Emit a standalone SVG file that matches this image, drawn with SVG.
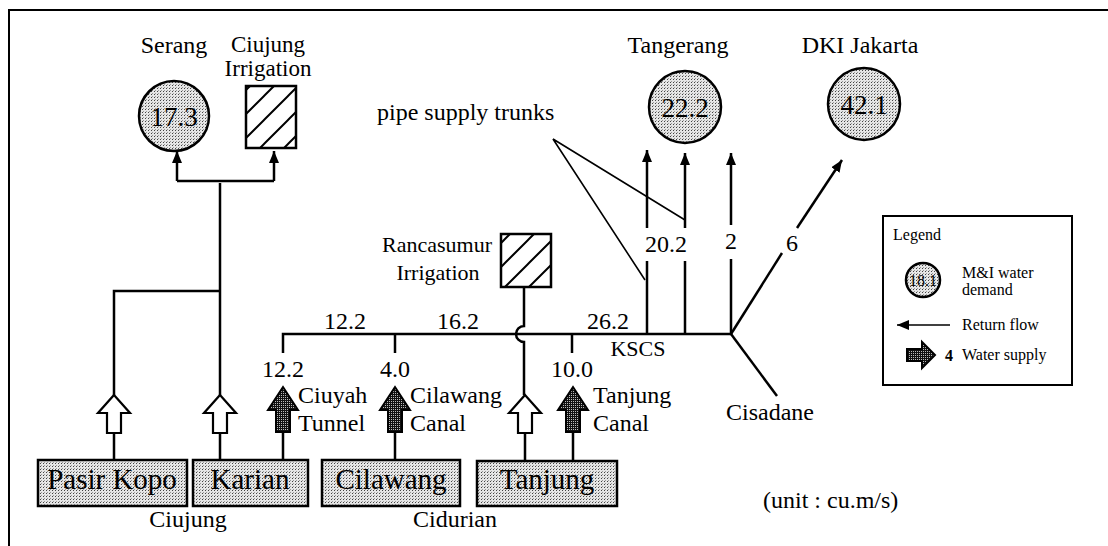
<svg xmlns="http://www.w3.org/2000/svg" width="1108" height="546" viewBox="0 0 1108 546">
<defs>
<pattern id="stip" patternUnits="userSpaceOnUse" width="3" height="3">
<rect width="3" height="3" fill="#e6e6e6"/>
<rect x="1" y="1" width="1" height="1" fill="#444"/>
<rect x="2" y="0" width="1" height="1" fill="#999"/>
</pattern>
<pattern id="dark" patternUnits="userSpaceOnUse" width="2" height="2">
<rect width="2" height="2" fill="#111"/>
<rect x="1" y="1" width="1" height="1" fill="#bbb"/>
</pattern>
<pattern id="hatch" patternUnits="userSpaceOnUse" width="24" height="24">
<rect width="24" height="24" fill="#fff"/>
<path d="M0,24 L24,0 M-6,6 L6,-6 M18,30 L30,18" stroke="#000" stroke-width="2"/>
</pattern>
<marker id="ah" viewBox="0 0 12 10" refX="12" refY="5" markerWidth="12" markerHeight="10" markerUnits="userSpaceOnUse" orient="auto">
<path d="M12,5 L0,0 L0,10 Z" fill="#000"/>
</marker>
</defs>
<style>
text{font-family:"Liberation Serif","Times New Roman",serif;fill:#000;}
.t{font-size:24px;}
.c{text-anchor:middle;}
.big{font-size:29px;}
.lg{font-size:16px;}
.ln{fill:none;stroke:#000;stroke-width:2.5;}
.thin{fill:none;stroke:#000;stroke-width:1.6;}
.box{fill:url(#stip);stroke:#000;stroke-width:2.5;}
.open{fill:#fff;stroke:#000;stroke-width:2.2;stroke-linejoin:miter;}
.drk{fill:url(#dark);stroke:#000;stroke-width:2;}
.hat{fill:url(#hatch);stroke:#000;stroke-width:2.5;}
</style>

<rect x="0" y="0" width="1108" height="546" fill="#fff"/>
<path d="M8,10 H1108 M9,10 V546" fill="none" stroke="#000" stroke-width="2"/>

<g id="connectors">
<!-- Ciujung system -->
<path class="ln" d="M220,183 V395"/>
<path class="ln" d="M177,181 H274"/>
<path class="ln" d="M177,181 V151" marker-end="url(#ah)"/>
<path class="ln" d="M274,181 V151" marker-end="url(#ah)"/>
<path class="ln" d="M114,395 V291 H220"/>
<!-- main line -->
<path class="ln" d="M283,353 V334 H731"/>
<path class="ln" d="M395,334 V353"/>
<path class="ln" d="M572,334 V353"/>
<!-- Rancasumur crossing -->
<path class="ln" d="M524,287 V326 A8,8 0 0 0 524,342 V395"/>
<!-- stems into boxes -->
<path class="ln" d="M114,433 V460 M220,433 V460 M283,432 V460 M395,432 V460 M525,433 V461 M573,432 V461"/>
<!-- to Tangerang -->
<path class="ln" d="M647,334 V261 M647,228 V150" marker-end="url(#ah)"/>
<path class="ln" d="M685,334 V261 M685,228 V153" marker-end="url(#ah)"/>
<path class="ln" d="M731,334 V259 M731,225 V153" marker-end="url(#ah)"/>
<!-- to DKI -->
<path class="ln" d="M731,334 L782,253"/>
<path class="ln" d="M797,228 L842,160" marker-end="url(#ah)"/>
<!-- Cisadane -->
<path class="ln" d="M731,334 L777,396"/>
<!-- pointers -->
<path class="thin" d="M645,280 L553,139 L685,220"/>
</g>

<g id="serang">
<circle cx="174" cy="116" r="35" class="box" stroke-width="3"/>
<text class="t c" x="174" y="53">Serang</text>
<text class="c" x="174" y="126" font-size="27">17.3</text>
</g>
<g id="ciujung-irrigation">
<rect x="246" y="86" width="50" height="62" class="hat"/>
<text class="c" x="268" y="52" font-size="23">Ciujung</text>
<text class="c" x="268" y="76" font-size="23">Irrigation</text>
</g>
<g id="tangerang">
<circle cx="685" cy="107" r="36" class="box" stroke-width="3"/>
<text class="t c" x="678" y="53">Tangerang</text>
<text class="c" x="685" y="117" font-size="27">22.2</text>
</g>
<g id="dki">
<circle cx="864" cy="104" r="36" class="box" stroke-width="3"/>
<text class="t c" x="860" y="53">DKI Jakarta</text>
<text class="c" x="864" y="114" font-size="27">42.1</text>
</g>
<g id="pipe-label">
<text class="t" x="377" y="120">pipe supply trunks</text>
</g>
<g id="rancasumur">
<rect x="501" y="234" width="50" height="53" class="hat"/>
<text class="c" x="437" y="252" font-size="22">Rancasumur</text>
<text class="c" x="438" y="280" font-size="22">Irrigation</text>
</g>

<g id="flow-labels">
<text class="t c" x="345" y="329">12.2</text>
<text class="t c" x="458" y="329">16.2</text>
<text class="t c" x="608" y="329">26.2</text>
<text class="c" x="638" y="356" font-size="22">KSCS</text>
<text class="t c" x="666" y="252">20.2</text>
<text class="t c" x="731" y="249">2</text>
<text class="t c" x="792" y="251">6</text>
<text class="t c" x="283" y="377">12.2</text>
<text class="t c" x="395" y="377">4.0</text>
<text class="t c" x="572" y="377">10.0</text>
<text class="t" x="298" y="403">Ciuyah</text>
<text class="t" x="298" y="431">Tunnel</text>
<text class="t" x="410" y="403">Cilawang</text>
<text class="t" x="410" y="431">Canal</text>
<text class="t" x="593" y="403">Tanjung</text>
<text class="t" x="593" y="431">Canal</text>
<text class="t c" x="770" y="420">Cisadane</text>
<text class="t" x="763" y="508">(unit : cu.m/s)</text>
</g>

<g id="arrows">
<polygon class="open" points="114,395 130,413 121,413 121,433 107,433 107,413 98,413"/>
<polygon class="open" points="220,395 236,413 227,413 227,433 213,433 213,413 204,413"/>
<polygon class="open" points="525,395 541,413 532,413 532,433 518,433 518,413 509,413"/>
<polygon class="drk" points="283,387 298,410 290,410 290,432 276,432 276,410 268,410"/>
<polygon class="drk" points="395,387 410,410 402,410 402,432 388,432 388,410 380,410"/>
<polygon class="drk" points="573,387 588,410 580,410 580,432 566,432 566,410 558,410"/>
</g>

<g id="pasir-kopo">
<rect x="38" y="460" width="149" height="46" class="box"/>
<text class="big c" x="112" y="489">Pasir Kopo</text>
</g>
<g id="karian">
<rect x="193" y="460" width="115" height="46" class="box"/>
<text class="big c" x="250" y="489">Karian</text>
</g>
<g id="cilawang">
<rect x="322" y="460" width="138" height="46" class="box"/>
<text class="big c" x="391" y="489">Cilawang</text>
</g>
<g id="tanjung">
<rect x="477" y="461" width="140" height="45" class="box"/>
<text class="big c" x="547" y="489">Tanjung</text>
</g>
<g id="basin-labels">
<text class="t c" x="188" y="527">Ciujung</text>
<text class="t c" x="455" y="527">Cidurian</text>
</g>

<g id="legend">
<rect x="883" y="216" width="189" height="169" fill="#fff" stroke="#000" stroke-width="2"/>
<text class="lg" x="893" y="240" font-size="14">Legend</text>
<circle cx="923" cy="280" r="17" class="box" stroke-width="2.5"/>
<text class="c" x="923" y="286" font-size="16">18.1</text>
<text class="lg" x="962" y="278">M&amp;I water</text>
<text class="lg" x="962" y="295">demand</text>
<path d="M950,325 H897" fill="none" stroke="#000" stroke-width="1.5" marker-end="url(#ah)"/>
<text class="lg" x="962" y="330">Return flow</text>
<polygon class="drk" points="907,349 922,349 922,342 935,355 922,368 922,361 907,361"/>
<text class="lg" x="945" y="361" font-weight="bold">4</text>
<text class="lg" x="962" y="360">Water supply</text>
</g>
</svg>
